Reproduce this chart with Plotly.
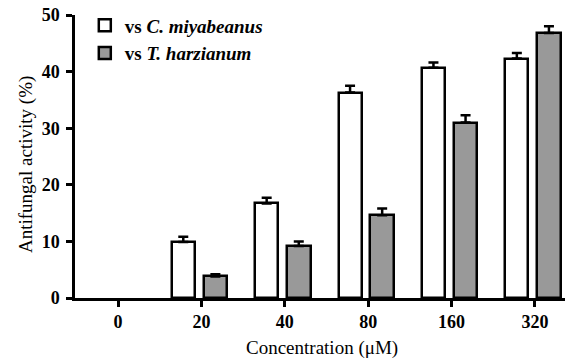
import plotly.graph_objects as go

categories = ["0", "20", "40", "80", "160", "320"]
c_miyabeanus = [0, 9.9, 16.7, 36.3, 40.7, 42.3]
c_miyabeanus_err = [0, 0.9, 1.0, 1.2, 0.9, 1.0]
t_harzianum = [0, 3.8, 9.2, 14.6, 31.0, 46.8]
t_harzianum_err = [0, 0.4, 0.8, 1.2, 1.3, 1.2]
y_ticks = [0, 10, 20, 30, 40, 50]

xpos = list(range(len(categories)))
FONT = "serif"


def visible(vals):
    return [v if v else None for v in vals]


fig = go.Figure()
fig.add_trace(go.Bar(
    x=xpos, y=visible(c_miyabeanus),
    name="<b>vs <i>C. miyabeanus</i></b>",
    offset=-0.355, width=0.275,
    marker=dict(color="white", line=dict(color="black", width=2.5)),
    error_y=dict(type="data", array=c_miyabeanus_err, arrayminus=[0] * 6,
                 symmetric=False, color="black", thickness=2.5, width=5),
))
fig.add_trace(go.Bar(
    x=xpos, y=visible(t_harzianum),
    name="<b>vs <i>T. harzianum</i></b>",
    offset=0.025, width=0.285,
    marker=dict(color="#999999", line=dict(color="black", width=2.5)),
    error_y=dict(type="data", array=t_harzianum_err, arrayminus=[0] * 6,
                 symmetric=False, color="black", thickness=2.5, width=5),
))

fig.update_layout(
    width=573, height=364,
    margin=dict(l=75, r=8, t=7, b=66),
    plot_bgcolor="white", paper_bgcolor="white",
    font=dict(family=FONT, color="black", size=18),
    showlegend=True,
    legend=dict(x=0.02, y=1.03, xanchor="left", yanchor="top",
                font=dict(family=FONT, size=19, color="black"),
                bgcolor="rgba(0,0,0,0)", itemwidth=30),
    bargap=0,
    annotations=[
        dict(text="Concentration (μM)", xref="paper", yref="paper",
             x=0.504, y=-0.175, xanchor="center", yanchor="middle", showarrow=False,
             font=dict(family=FONT, size=19, color="black")),
        dict(text="Antifungal activity (%)", xref="paper", yref="paper",
             x=-0.1, y=0.47, xanchor="center", yanchor="middle",
             textangle=-90, showarrow=False,
             font=dict(family=FONT, size=19, color="black")),
    ],
)
fig.update_xaxes(
    tickmode="array", tickvals=xpos, ticktext=[f"<b>{c}</b>" for c in categories],
    range=[-0.516, 5.36], automargin=False,
    showline=True, linecolor="black", linewidth=2.5,
    ticks="outside", ticklen=6, tickwidth=2.5, tickcolor="black",
    showgrid=False, zeroline=False,
    tickfont=dict(family=FONT, size=18, color="black"),
)
fig.update_yaxes(
    tickmode="array", tickvals=y_ticks, ticktext=[f"<b>{v}</b>" for v in y_ticks],
    range=[0, 50], automargin=False, ticklabeloverflow="allow",
    ticklabelstandoff=3,
    showline=True, linecolor="black", linewidth=2.5,
    ticks="outside", ticklen=6, tickwidth=2.5, tickcolor="black",
    showgrid=False, zeroline=False,
    tickfont=dict(family=FONT, size=18, color="black"),
)

fig.write_html("out.html", config={"displayModeBar": False},
               post_script="document.body.style.margin='0px';")
